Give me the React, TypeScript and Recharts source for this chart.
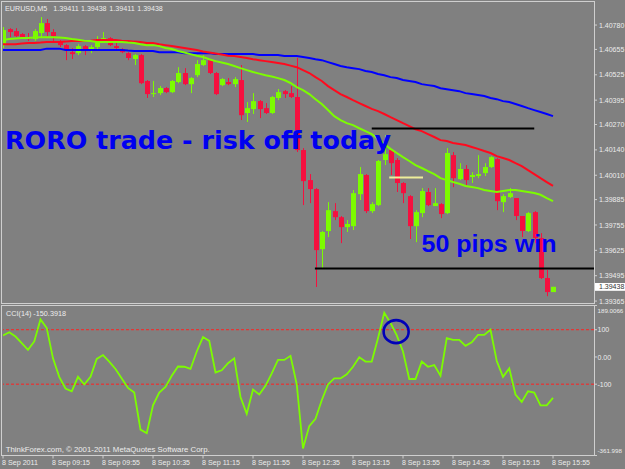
import React from 'react';
import { ComposedChart, Bar, Line, XAxis, YAxis, ReferenceLine, ReferenceDot } from 'recharts';

// ---------- data (EURUSD M5, 8 Sep 2011, bars from 08:35 to 15:55) ----------
const openP = [
  1.40677, 1.40759, 1.40749, 1.40734, 1.40718, 1.40708, 1.40739, 1.40790, 1.40744, 1.40693,
  1.40677, 1.40641, 1.40636, 1.40672, 1.40657, 1.40667, 1.40703, 1.40713, 1.40672, 1.40657,
  1.40636, 1.40606, 1.40626, 1.40493, 1.40426, 1.40431, 1.40457, 1.40436, 1.40488, 1.40534,
  1.40477, 1.40523, 1.40575, 1.40600, 1.40534, 1.40472, 1.40488, 1.40477, 1.40498, 1.40329,
  1.40349, 1.40390, 1.40354, 1.40329, 1.40406, 1.40441, 1.40431, 1.40411, 1.40139, 1.39985,
  1.39939, 1.39631, 1.39724, 1.39826, 1.39795, 1.39744, 1.39749, 1.39913, 1.40011, 1.39826,
  1.39857, 1.40088, 1.40139, 1.40088, 1.39970, 1.39903, 1.39749, 1.39816, 1.39924, 1.39852,
  1.39862, 1.39816, 1.40113, 1.39990, 1.40042, 1.40001, 1.40006, 1.40021, 1.40052, 1.40093,
  1.39872, 1.39898, 1.39893, 1.39801, 1.39724, 1.39821, 1.39688, 1.39483, 1.39411,
];
const highP = [
  1.40770, 1.40764, 1.40764, 1.40739, 1.40739, 1.40759, 1.40821, 1.40811, 1.40759, 1.40703,
  1.40682, 1.40662, 1.40682, 1.40677, 1.40677, 1.40723, 1.40744, 1.40718, 1.40688, 1.40662,
  1.40641, 1.40631, 1.40631, 1.40498, 1.40493, 1.40467, 1.40462, 1.40498, 1.40564, 1.40559,
  1.40513, 1.40600, 1.40626, 1.40606, 1.40539, 1.40508, 1.40508, 1.40513, 1.40575, 1.40385,
  1.40431, 1.40395, 1.40380, 1.40416, 1.40452, 1.40447, 1.40467, 1.40611, 1.40149, 1.40016,
  1.39944, 1.39724, 1.39872, 1.39867, 1.39801, 1.39780, 1.39934, 1.40052, 1.40016, 1.39872,
  1.40088, 1.40216, 1.40144, 1.40098, 1.39975, 1.39908, 1.39831, 1.39944, 1.39944, 1.39944,
  1.39867, 1.40149, 1.40129, 1.40072, 1.40062, 1.40026, 1.40113, 1.40072, 1.40108, 1.40098,
  1.39913, 1.39944, 1.39893, 1.39801, 1.39821, 1.39826, 1.39713, 1.39524, 1.39438,
];
const lowP = [
  1.40662, 1.40718, 1.40718, 1.40713, 1.40698, 1.40698, 1.40718, 1.40723, 1.40693, 1.40667,
  1.40600, 1.40606, 1.40626, 1.40626, 1.40636, 1.40657, 1.40688, 1.40672, 1.40657, 1.40636,
  1.40600, 1.40575, 1.40477, 1.40406, 1.40411, 1.40421, 1.40431, 1.40431, 1.40482, 1.40472,
  1.40431, 1.40513, 1.40570, 1.40529, 1.40421, 1.40467, 1.40472, 1.40462, 1.40293, 1.40283,
  1.40324, 1.40303, 1.40324, 1.40324, 1.40395, 1.40406, 1.40406, 1.40129, 1.39857, 1.39867,
  1.39437, 1.39534, 1.39693, 1.39780, 1.39662, 1.39719, 1.39729, 1.39883, 1.39816, 1.39816,
  1.39852, 1.40062, 1.40011, 1.39924, 1.39867, 1.39683, 1.39667, 1.39795, 1.39852, 1.39852,
  1.39790, 1.39811, 1.39949, 1.39985, 1.39960, 1.39970, 1.39995, 1.40006, 1.40047, 1.39831,
  1.39821, 1.39893, 1.39780, 1.39693, 1.39719, 1.39662, 1.39478, 1.39390, 1.39411,
];
const closeP = [
  1.40754, 1.40744, 1.40723, 1.40718, 1.40708, 1.40749, 1.40790, 1.40744, 1.40723, 1.40677,
  1.40652, 1.40631, 1.40672, 1.40652, 1.40667, 1.40708, 1.40713, 1.40677, 1.40662, 1.40641,
  1.40611, 1.40626, 1.40482, 1.40426, 1.40431, 1.40457, 1.40436, 1.40493, 1.40534, 1.40477,
  1.40508, 1.40580, 1.40600, 1.40534, 1.40426, 1.40503, 1.40477, 1.40503, 1.40318, 1.40354,
  1.40390, 1.40349, 1.40329, 1.40411, 1.40436, 1.40426, 1.40411, 1.40139, 1.39980, 1.39939,
  1.39626, 1.39719, 1.39831, 1.39795, 1.39744, 1.39760, 1.39918, 1.40016, 1.39826, 1.39862,
  1.40083, 1.40118, 1.40072, 1.39970, 1.39918, 1.39749, 1.39821, 1.39929, 1.39857, 1.39867,
  1.39811, 1.40124, 1.39995, 1.40042, 1.39985, 1.40011, 1.40016, 1.40052, 1.40103, 1.39877,
  1.39903, 1.39918, 1.39801, 1.39724, 1.39816, 1.39688, 1.39483, 1.39411, 1.39438,
];
// moving averages (green = fast, red = medium, blue = slow)
const maGreen = [
  1.40703, 1.40708, 1.40711, 1.40713, 1.40713, 1.40716, 1.40718, 1.40718, 1.40718, 1.40716,
  1.40713, 1.40708, 1.40705, 1.40700, 1.40698, 1.40693, 1.40693, 1.40693, 1.40693, 1.40693,
  1.40690, 1.40688, 1.40682, 1.40677, 1.40677, 1.40672, 1.40662, 1.40657, 1.40647, 1.40639,
  1.40631, 1.40623, 1.40616, 1.40605, 1.40595, 1.40588, 1.40580, 1.40570, 1.40559, 1.40549,
  1.40539, 1.40531, 1.40523, 1.40516, 1.40508, 1.40498, 1.40483, 1.40462, 1.40446, 1.40426,
  1.40400, 1.40375, 1.40344, 1.40313, 1.40293, 1.40277, 1.40267, 1.40251, 1.40236, 1.40221,
  1.40195, 1.40170, 1.40145, 1.40124, 1.40103, 1.40083, 1.40062, 1.40047, 1.40031, 1.40016,
  1.39995, 1.39985, 1.39975, 1.39966, 1.39955, 1.39950, 1.39944, 1.39934, 1.39929, 1.39924,
  1.39929, 1.39934, 1.39934, 1.39929, 1.39924, 1.39919, 1.39910, 1.39893, 1.39877,
];
const maRed = [
  1.40682, 1.40682, 1.40682, 1.40685, 1.40688, 1.40688, 1.40690, 1.40693, 1.40693, 1.40693,
  1.40695, 1.40698, 1.40698, 1.40698, 1.40700, 1.40703, 1.40703, 1.40703, 1.40703, 1.40700,
  1.40698, 1.40695, 1.40693, 1.40688, 1.40688, 1.40682, 1.40677, 1.40672, 1.40667, 1.40662,
  1.40657, 1.40652, 1.40644, 1.40639, 1.40634, 1.40629, 1.40623, 1.40621, 1.40616, 1.40611,
  1.40605, 1.40600, 1.40595, 1.40590, 1.40585, 1.40580, 1.40572, 1.40564, 1.40549, 1.40534,
  1.40513, 1.40493, 1.40467, 1.40446, 1.40426, 1.40411, 1.40395, 1.40380, 1.40365, 1.40350,
  1.40339, 1.40324, 1.40308, 1.40293, 1.40277, 1.40262, 1.40246, 1.40236, 1.40221, 1.40206,
  1.40190, 1.40185, 1.40175, 1.40170, 1.40165, 1.40155, 1.40145, 1.40134, 1.40124, 1.40108,
  1.40098, 1.40088, 1.40072, 1.40057, 1.40036, 1.40016, 1.39995, 1.39975, 1.39955,
];
const maBlue = [
  1.40652, 1.40652, 1.40652, 1.40652, 1.40652, 1.40652, 1.40652, 1.40659, 1.40659, 1.40659,
  1.40652, 1.40652, 1.40652, 1.40652, 1.40652, 1.40652, 1.40652, 1.40652, 1.40652, 1.40652,
  1.40649, 1.40647, 1.40647, 1.40647, 1.40647, 1.40641, 1.40641, 1.40641, 1.40641, 1.40636,
  1.40636, 1.40636, 1.40636, 1.40636, 1.40631, 1.40631, 1.40631, 1.40631, 1.40631, 1.40631,
  1.40631, 1.40626, 1.40626, 1.40626, 1.40626, 1.40621, 1.40621, 1.40621, 1.40616, 1.40611,
  1.40605, 1.40600, 1.40590, 1.40580, 1.40570, 1.40564, 1.40559, 1.40554, 1.40544, 1.40539,
  1.40529, 1.40523, 1.40513, 1.40508, 1.40498, 1.40493, 1.40488, 1.40477, 1.40472, 1.40467,
  1.40456, 1.40451, 1.40446, 1.40441, 1.40431, 1.40426, 1.40421, 1.40416, 1.40406, 1.40400,
  1.40390, 1.40385, 1.40375, 1.40365, 1.40354, 1.40344, 1.40334, 1.40324, 1.40313,
];
const cciValues = [
  79, 91, 75, 51, 26, 57, 138, 106, -5, -73,
  -116, -126, -73, -101, -73, -7, 7, -17, -44, -79,
  -114, -131, -267, -280, -178, -131, -110, -69, -35, -36,
  -44, 20, 73, 59, -57, -49, -23, -5, -147, -209,
  -120, -138, -106, -60, -11, -11, 4, -101, -336, -254,
  -227, -159, -101, -79, -79, -64, -36, -1, -17, -17,
  69, 162, 125, 79, 20, -81, -81, -17, -36, -30,
  -69, 69, 63, 63, 41, 54, 81, 81, 100, -15,
  -73, -42, -138, -165, -126, -131, -178, -178, -150.3918,
];

const priceTicks = [1.4078, 1.40655, 1.40525, 1.40395, 1.4027, 1.4014, 1.4001, 1.39885, 1.39755, 1.39625, 1.39495, 1.39365];
const BID = 1.39438;
const cciTicks = [189.0066, 100, 0, -100, -361.998];
const cciTickLabels = ['189.0066', '100', '0.00', '-100', '-361.998'];
const timeTickIdx = [0, 8, 16, 24, 32, 40, 48, 56, 64, 72, 80, 88];
const timeLabels = ['8 Sep 2011', '8 Sep 09:15', '8 Sep 09:55', '8 Sep 10:35', '8 Sep 11:15', '8 Sep 11:55', '8 Sep 12:35', '8 Sep 13:15', '8 Sep 13:55', '8 Sep 14:35', '8 Sep 15:15', '8 Sep 15:55'];

// drawn objects (trend lines in price / bar-index units)
const levelHigh = { price: 1.4025, from: 59.0, to: 85.0 };
const levelLow = { price: 1.39532, from: 49.9, to: 94.56 };
const levelMid = { price: 1.39999, from: 61.8, to: 67.2 };
const circleMark = { idx: 62.9, value: 93 };

// ---------- style ----------
const BG = '#808080';
const FRAME = '#cfcfcf';
const TXT = '#ececec';
const BULL = '#7cfc00';
const BEAR = '#f5103f';
const X_MAX = 94.56;
const P_MIN = 1.39355;
const P_MAX = 1.40893;
const FONT = '"Liberation Sans", Arial, sans-serif';

const Candle = (props: any) => {
  const { x, y, width, height, payload } = props;
  if (x == null || y == null) return null;
  const { open, close, high, low } = payload;
  const cx = Math.round(x + width / 2) + 0.5;
  const range = high - low;
  const toY = (v: number) => (range === 0 ? y : y + ((high - v) / range) * height);
  const color = close >= open ? BULL : BEAR;
  const top = toY(Math.max(open, close));
  const bot = toY(Math.min(open, close));
  return (
    <g>
      <line x1={cx} x2={cx} y1={y} y2={y + height} stroke={color} strokeWidth={1} />
      <rect x={cx - 2.5} y={top} width={5} height={Math.max(1, bot - top)} fill={color} />
    </g>
  );
};

const PriceTick = (props: any) => {
  const { x, y, payload } = props;
  const v = payload.value;
  if (Math.abs(v - BID) < 1e-7) {
    return (
      <g>
        <rect x={x - 4.5} y={y - 3.8} width={32} height={7.8} fill="#ffffff" />
        <text x={x} y={y + 2.6} fontSize={7} fontFamily={FONT} fill="#333">{v.toFixed(5)}</text>
      </g>
    );
  }
  return (
    <text x={x} y={y + 2.6} fontSize={7} fontFamily={FONT} fill={TXT}>{v.toFixed(5)}</text>
  );
};

const CciTick = (props: any) => {
  const { x, y, payload } = props;
  const k = cciTicks.indexOf(payload.value);
  const dy = k === 0 ? 4.8 : k === cciTicks.length - 1 ? -5.5 : 0;
  const edge = k === 0 || k === cciTicks.length - 1;
  return (
    <text x={x} y={y + 2.6 + dy} fontSize={edge ? 6.2 : 7} fontFamily={FONT} fill={TXT}>
      {cciTickLabels[k]}
    </text>
  );
};

const TimeTick = (props: any) => {
  const { x, y, payload } = props;
  const k = timeTickIdx.indexOf(payload.value);
  return (
    <text x={x - 1} y={y + 5.3} fontSize={7} fontFamily={FONT} fill={TXT} textLength={k === 0 ? 36 : 38} lengthAdjust="spacingAndGlyphs">{timeLabels[k]}</text>
  );
};

export default function App() {
  const bars = openP.map((o, i) => ({
    i,
    open: o,
    high: highP[i],
    low: lowP[i],
    close: closeP[i],
    range: [lowP[i], highP[i]],
    maFast: maGreen[i],
    maMid: maRed[i],
    maSlow: maBlue[i],
  }));
  const cciData = cciValues.map((v, i) => ({ i, cci: v }));
  const last = bars.length - 1;
  const ohlc = [openP[last], highP[last], lowP[last], closeP[last]];
  const ohlcX = [53.3, 81, 109.3, 137.3];

  return (
    <div style={{ position: 'fixed', left: 0, top: 0, width: 625, height: 469, background: BG, overflow: 'hidden' }}>
      <div style={{ position: 'absolute', left: 0, top: 0 }}>
        <ComposedChart width={625} height={305} data={bars} margin={{ top: 3, right: 0, bottom: 2, left: 3 }}>
          <XAxis type="number" dataKey="i" domain={[0, X_MAX]} hide allowDataOverflow />
          <YAxis
            orientation="right"
            domain={[P_MIN, P_MAX]}
            ticks={[...priceTicks, BID]}
            interval={0}
            width={31}
            tickSize={3}
            tickMargin={2}
            axisLine={false}
            tickLine={{ stroke: FRAME }}
            tick={PriceTick}
            allowDataOverflow
          />
          <Bar dataKey="range" barSize={5} shape={Candle} isAnimationActive={false} />
          <Line dataKey="maSlow" type="linear" stroke="#0000ff" strokeWidth={2} dot={false} isAnimationActive={false} />
          <Line dataKey="maMid" type="linear" stroke="#ff0a1e" strokeWidth={2} dot={false} isAnimationActive={false} />
          <Line dataKey="maFast" type="linear" stroke={BULL} strokeWidth={2} dot={false} isAnimationActive={false} />
          <ReferenceLine segment={[{ x: levelHigh.from, y: levelHigh.price }, { x: levelHigh.to, y: levelHigh.price }]} stroke="#000" strokeWidth={2} />
          <ReferenceLine segment={[{ x: levelLow.from, y: levelLow.price }, { x: levelLow.to, y: levelLow.price }]} stroke="#000" strokeWidth={2} />
          <ReferenceLine segment={[{ x: levelMid.from, y: levelMid.price }, { x: levelMid.to, y: levelMid.price }]} stroke="#eeee9a" strokeWidth={2} />
        </ComposedChart>
      </div>
      <div style={{ position: 'absolute', left: 0, top: 305 }}>
        <ComposedChart width={625} height={164} data={cciData} margin={{ top: 0.5, right: 0, bottom: 0, left: 3 }}>
          <XAxis
            type="number"
            dataKey="i"
            domain={[0, X_MAX]}
            ticks={timeTickIdx}
            interval={0}
            height={13.5}
            tickSize={3}
            tickMargin={1}
            axisLine={false}
            tickLine={{ stroke: FRAME }}
            tick={TimeTick}
            allowDataOverflow
          />
          <YAxis
            orientation="right"
            domain={[cciTicks[cciTicks.length - 1], cciTicks[0]]}
            ticks={cciTicks}
            interval={0}
            width={31}
            tickSize={3}
            tickMargin={0.5}
            axisLine={false}
            tickLine={{ stroke: FRAME }}
            tick={CciTick}
            allowDataOverflow
          />
          <ReferenceLine y={100} stroke="#ff2020" strokeDasharray="3 2" />
          <ReferenceLine y={-100} stroke="#ff2020" strokeDasharray="3 2" />
          <Line dataKey="cci" type="linear" stroke={BULL} strokeWidth={1.8} dot={false} isAnimationActive={false} />
          <ReferenceDot
            x={circleMark.idx}
            y={circleMark.value}
            r={12}
            shape={(p: any) => <ellipse cx={p.cx} cy={p.cy} rx={12.5} ry={11.5} fill="none" stroke="#0000b8" strokeWidth={2.6} />}
          />
        </ComposedChart>
      </div>
      <svg width={625} height={469} style={{ position: 'absolute', left: 0, top: 0, pointerEvents: 'none' }}>
        <rect x={1.5} y={1.5} width={593} height={302} fill="none" stroke={FRAME} strokeWidth={1} />
        <rect x={1.5} y={305.5} width={593} height={150} fill="none" stroke={FRAME} strokeWidth={1} />
        <text x={5} y={10.6} fontSize={7.5} fontFamily={FONT} fill={TXT} textLength={42.3} lengthAdjust="spacingAndGlyphs">EURUSD,M5</text>
        {ohlc.map((v, k) => (
          <text key={k} x={ohlcX[k]} y={10.6} fontSize={7.5} fontFamily={FONT} fill={TXT} textLength={25.5} lengthAdjust="spacingAndGlyphs">{v.toFixed(5)}</text>
        ))}
        <text x={6} y={316} fontSize={7.3} fontFamily={FONT} fill={TXT} textLength={60} lengthAdjust="spacingAndGlyphs">{`CCI(14) ${cciValues[last].toFixed(4)}`}</text>
        <text x={5.7} y={451.6} fontSize={7.5} fontFamily={FONT} fill={TXT} textLength={204} lengthAdjust="spacingAndGlyphs">ThinkForex.com, © 2001-2011 MetaQuotes Software Corp.</text>
        <text x={5} y={149} fontSize={25} fontWeight="bold" fontFamily={'"DejaVu Sans", sans-serif'} fill="#0000f0" textLength={386} lengthAdjust="spacingAndGlyphs">RORO trade - risk off today</text>
        <text x={421.5} y={251.6} fontSize={24.5} fontWeight="bold" fontFamily={FONT} fill="#0000f0" textLength={135} lengthAdjust="spacingAndGlyphs">50 pips win</text>
      </svg>
    </div>
  );
}
